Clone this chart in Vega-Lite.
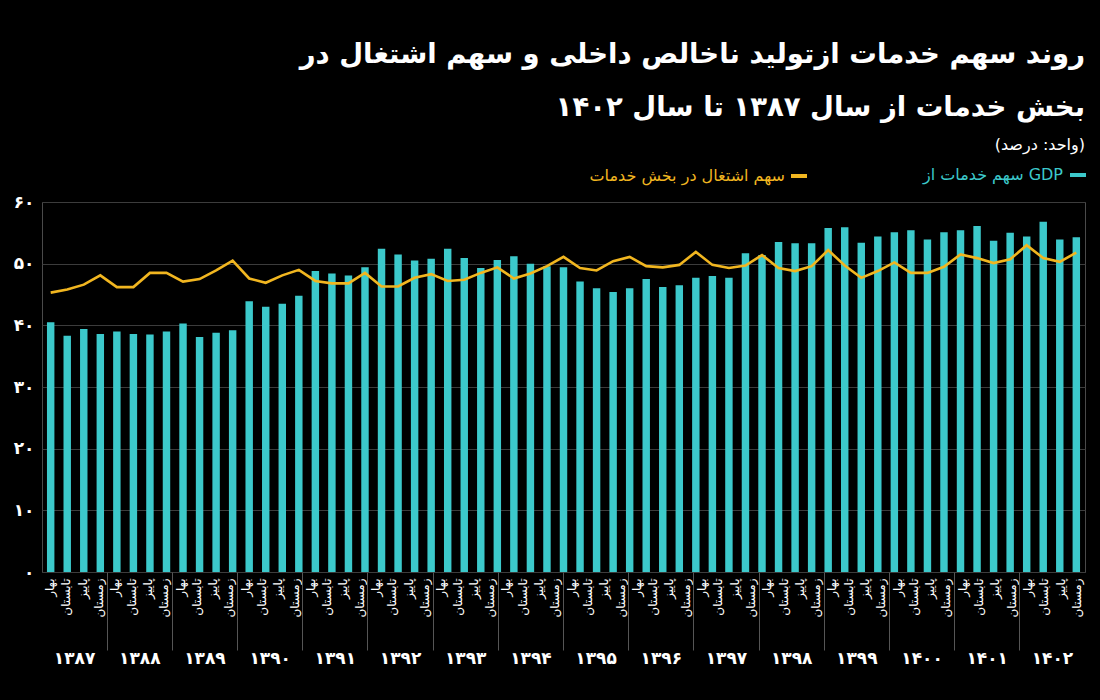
{
  "$schema": "https://vega.github.io/schema/vega-lite/v6.json",
  "width": 1043,
  "height": 370,
  "autosize": {"type": "none"},
  "padding": {"left": 42, "top": 202, "right": 15, "bottom": 128},
  "background": "#000000",
  "title": {
    "text": ["روند سهم خدمات ازتولید ناخالص داخلی  و سهم اشتغال در", "بخش خدمات از سال ۱۳۸۷ تا سال ۱۴۰۲"],
    "subtitle": "(واحد: درصد)",
    "anchor": "end",
    "frame": "group",
    "font": "DejaVu Sans",
    "fontSize": 27.5,
    "fontWeight": "bold",
    "color": "#ffffff",
    "lineHeight": 53,
    "subtitleFont": "DejaVu Sans",
    "subtitleFontSize": 16,
    "subtitleColor": "#ffffff",
    "subtitlePadding": 16,
    "offset": 13
  },
  "datasets": {
    "main": [
      {"q": "1387-1", "gdp": 40.5, "emp": 45.3},
      {"q": "1387-2", "gdp": 38.3, "emp": 45.8},
      {"q": "1387-3", "gdp": 39.4, "emp": 46.6},
      {"q": "1387-4", "gdp": 38.6, "emp": 48.1},
      {"q": "1388-1", "gdp": 39.0, "emp": 46.2},
      {"q": "1388-2", "gdp": 38.6, "emp": 46.2},
      {"q": "1388-3", "gdp": 38.5, "emp": 48.5},
      {"q": "1388-4", "gdp": 39.0, "emp": 48.5},
      {"q": "1389-1", "gdp": 40.3, "emp": 47.1},
      {"q": "1389-2", "gdp": 38.1, "emp": 47.5},
      {"q": "1389-3", "gdp": 38.8, "emp": 48.9},
      {"q": "1389-4", "gdp": 39.2, "emp": 50.5},
      {"q": "1390-1", "gdp": 43.9, "emp": 47.6},
      {"q": "1390-2", "gdp": 43.0, "emp": 46.9},
      {"q": "1390-3", "gdp": 43.5, "emp": 48.1},
      {"q": "1390-4", "gdp": 44.8, "emp": 49.0},
      {"q": "1391-1", "gdp": 48.8, "emp": 47.2},
      {"q": "1391-2", "gdp": 48.4, "emp": 46.8},
      {"q": "1391-3", "gdp": 48.1, "emp": 46.8},
      {"q": "1391-4", "gdp": 49.4, "emp": 48.5},
      {"q": "1392-1", "gdp": 52.4, "emp": 46.3},
      {"q": "1392-2", "gdp": 51.5, "emp": 46.3},
      {"q": "1392-3", "gdp": 50.5, "emp": 47.7},
      {"q": "1392-4", "gdp": 50.8, "emp": 48.3},
      {"q": "1393-1", "gdp": 52.4, "emp": 47.2},
      {"q": "1393-2", "gdp": 50.9, "emp": 47.4},
      {"q": "1393-3", "gdp": 49.3, "emp": 48.5},
      {"q": "1393-4", "gdp": 50.6, "emp": 49.4},
      {"q": "1394-1", "gdp": 51.2, "emp": 47.6},
      {"q": "1394-2", "gdp": 50.0, "emp": 48.4},
      {"q": "1394-3", "gdp": 49.6, "emp": 49.6},
      {"q": "1394-4", "gdp": 49.4, "emp": 51.1},
      {"q": "1395-1", "gdp": 47.1, "emp": 49.3},
      {"q": "1395-2", "gdp": 46.0, "emp": 48.9},
      {"q": "1395-3", "gdp": 45.4, "emp": 50.4},
      {"q": "1395-4", "gdp": 46.0, "emp": 51.1},
      {"q": "1396-1", "gdp": 47.5, "emp": 49.6},
      {"q": "1396-2", "gdp": 46.2, "emp": 49.4},
      {"q": "1396-3", "gdp": 46.5, "emp": 49.8},
      {"q": "1396-4", "gdp": 47.7, "emp": 51.9},
      {"q": "1397-1", "gdp": 48.0, "emp": 49.8},
      {"q": "1397-2", "gdp": 47.7, "emp": 49.3},
      {"q": "1397-3", "gdp": 51.7, "emp": 49.7},
      {"q": "1397-4", "gdp": 51.4, "emp": 51.4},
      {"q": "1398-1", "gdp": 53.5, "emp": 49.3},
      {"q": "1398-2", "gdp": 53.3, "emp": 48.8},
      {"q": "1398-3", "gdp": 53.3, "emp": 49.6},
      {"q": "1398-4", "gdp": 55.8, "emp": 52.2},
      {"q": "1399-1", "gdp": 55.9, "emp": 49.7},
      {"q": "1399-2", "gdp": 53.4, "emp": 47.7},
      {"q": "1399-3", "gdp": 54.4, "emp": 48.8},
      {"q": "1399-4", "gdp": 55.1, "emp": 50.2},
      {"q": "1400-1", "gdp": 55.4, "emp": 48.5},
      {"q": "1400-2", "gdp": 53.9, "emp": 48.5},
      {"q": "1400-3", "gdp": 55.1, "emp": 49.5},
      {"q": "1400-4", "gdp": 55.4, "emp": 51.5},
      {"q": "1401-1", "gdp": 56.1, "emp": 50.9},
      {"q": "1401-2", "gdp": 53.7, "emp": 50.1},
      {"q": "1401-3", "gdp": 55.0, "emp": 50.7},
      {"q": "1401-4", "gdp": 54.4, "emp": 53.0},
      {"q": "1402-1", "gdp": 56.8, "emp": 50.9},
      {"q": "1402-2", "gdp": 53.9, "emp": 50.3},
      {"q": "1402-3", "gdp": 54.3, "emp": 51.8}
    ],
    "slots": [
      {"slot": "1387|بهار"}, {"slot": "1387|تابستان"}, {"slot": "1387|پاییز"}, {"slot": "1387|زمستان"},
      {"slot": "1388|بهار"}, {"slot": "1388|تابستان"}, {"slot": "1388|پاییز"}, {"slot": "1388|زمستان"},
      {"slot": "1389|بهار"}, {"slot": "1389|تابستان"}, {"slot": "1389|پاییز"}, {"slot": "1389|زمستان"},
      {"slot": "1390|بهار"}, {"slot": "1390|تابستان"}, {"slot": "1390|پاییز"}, {"slot": "1390|زمستان"},
      {"slot": "1391|بهار"}, {"slot": "1391|تابستان"}, {"slot": "1391|پاییز"}, {"slot": "1391|زمستان"},
      {"slot": "1392|بهار"}, {"slot": "1392|تابستان"}, {"slot": "1392|پاییز"}, {"slot": "1392|زمستان"},
      {"slot": "1393|بهار"}, {"slot": "1393|تابستان"}, {"slot": "1393|پاییز"}, {"slot": "1393|زمستان"},
      {"slot": "1394|بهار"}, {"slot": "1394|تابستان"}, {"slot": "1394|پاییز"}, {"slot": "1394|زمستان"},
      {"slot": "1395|بهار"}, {"slot": "1395|تابستان"}, {"slot": "1395|پاییز"}, {"slot": "1395|زمستان"},
      {"slot": "1396|بهار"}, {"slot": "1396|تابستان"}, {"slot": "1396|پاییز"}, {"slot": "1396|زمستان"},
      {"slot": "1397|بهار"}, {"slot": "1397|تابستان"}, {"slot": "1397|پاییز"}, {"slot": "1397|زمستان"},
      {"slot": "1398|بهار"}, {"slot": "1398|تابستان"}, {"slot": "1398|پاییز"}, {"slot": "1398|زمستان"},
      {"slot": "1399|بهار"}, {"slot": "1399|تابستان"}, {"slot": "1399|پاییز"}, {"slot": "1399|زمستان"},
      {"slot": "1400|بهار"}, {"slot": "1400|تابستان"}, {"slot": "1400|پاییز"}, {"slot": "1400|زمستان"},
      {"slot": "1401|بهار"}, {"slot": "1401|تابستان"}, {"slot": "1401|پاییز"}, {"slot": "1401|زمستان"},
      {"slot": "1402|بهار"}, {"slot": "1402|تابستان"}, {"slot": "1402|پاییز"}, {"slot": "1402|زمستان"}
    ],
    "years": [
      {"year": "۱۳۸۷"}, {"year": "۱۳۸۸"}, {"year": "۱۳۸۹"}, {"year": "۱۳۹۰"},
      {"year": "۱۳۹۱"}, {"year": "۱۳۹۲"}, {"year": "۱۳۹۳"}, {"year": "۱۳۹۴"},
      {"year": "۱۳۹۵"}, {"year": "۱۳۹۶"}, {"year": "۱۳۹۷"}, {"year": "۱۳۹۸"},
      {"year": "۱۳۹۹"}, {"year": "۱۴۰۰"}, {"year": "۱۴۰۱"}, {"year": "۱۴۰۲"}
    ]
  },
  "layer": [
    {
      "data": {"name": "main"},
      "layer": [
        {
          "mark": {"type": "bar"},
          "encoding": {
            "x": {"field": "q", "type": "nominal", "sort": null,
                  "scale": {"paddingInner": 0.55, "paddingOuter": 0.3}, "axis": null},
            "y": {"field": "gdp", "type": "quantitative", "title": null,
                  "scale": {"domain": [0, 60], "nice": false},
                  "axis": {"values": [0, 10, 20, 30, 40, 50, 60]}},
            "color": {"datum": "سهم خدمات از GDP", "type": "nominal",
                      "scale": {"range": ["#3CC9CB"]},
                      "legend": {"title": null, "orient": "none", "legendX": 1027, "legendY": -36,
                                 "labelColor": "#3CC9CB", "labelFontSize": 16, "labelFont": "DejaVu Sans",
                                 "labelAlign": "right", "labelOffset": -24, "labelLimit": 400,
                                 "symbolType": "M-1,-0.25H1V0.25H-1Z", "symbolSize": 256}}
          }
        },
        {
          "mark": {"type": "line", "strokeWidth": 2.6},
          "encoding": {
            "x": {"field": "q", "type": "nominal", "sort": null, "axis": null},
            "y": {"field": "emp", "type": "quantitative", "title": null,
                  "axis": {"values": [0, 10, 20, 30, 40, 50, 60]}},
            "stroke": {"datum": "سهم اشتغال در بخش خدمات", "type": "nominal",
                       "scale": {"range": ["#F1B620"]},
                       "legend": {"title": null, "orient": "none", "legendX": 747, "legendY": -36,
                                  "labelColor": "#F1B620", "labelFontSize": 16, "labelFont": "DejaVu Sans",
                                  "labelAlign": "right", "labelOffset": -24, "labelLimit": 400,
                                  "symbolType": "stroke", "symbolStrokeWidth": 4, "symbolSize": 256}}
          }
        }
      ]
    },
    {
      "data": {"name": "slots"},
      "mark": {"type": "tick", "opacity": 0},
      "encoding": {
        "x": {"field": "slot", "type": "nominal", "sort": null,
              "scale": {"type": "band", "paddingInner": 0, "paddingOuter": 0},
              "axis": {"orient": "bottom", "title": null, "labelAngle": -90, "labelPadding": 6,
                       "ticks": false, "domain": false, "grid": false,
                       "labelFontSize": 12, "labelColor": "#ffffff", "labelFont": "DejaVu Sans",
                       "labelExpr": "split(datum.label, '|')[1]", "labelOverlap": false}}
      }
    },
    {
      "data": {"name": "years"},
      "mark": {"type": "tick", "opacity": 0},
      "encoding": {
        "x": {"field": "year", "type": "nominal", "sort": null,
              "scale": {"type": "band", "paddingInner": 0, "paddingOuter": 0},
              "axis": {"orient": "bottom", "title": null, "labels": false, "domain": false, "grid": false,
                       "ticks": true, "tickSize": 78, "tickColor": "#555555", "tickWidth": 1,
                       "bandPosition": 0,
                       "values": ["۱۳۸۸", "۱۳۸۹", "۱۳۹۰", "۱۳۹۱", "۱۳۹۲", "۱۳۹۳", "۱۳۹۴", "۱۳۹۵", "۱۳۹۶", "۱۳۹۷", "۱۳۹۸", "۱۳۹۹", "۱۴۰۰", "۱۴۰۱", "۱۴۰۲"]}}
      }
    },
    {
      "data": {"name": "years"},
      "mark": {"type": "tick", "opacity": 0},
      "encoding": {
        "x": {"field": "year", "type": "nominal", "sort": null,
              "scale": {"type": "band", "paddingInner": 0, "paddingOuter": 0},
              "axis": {"orient": "bottom", "title": null, "ticks": false, "domain": false, "grid": false,
                       "labelPadding": 78, "labelAngle": 0, "labelFontSize": 17, "labelFontWeight": "bold",
                       "labelColor": "#ffffff", "labelFont": "DejaVu Sans"}}
      }
    }
  ],
  "resolve": {"scale": {"x": "independent"}, "axis": {"x": "independent"}},
  "config": {
    "view": {"stroke": "#4a4a4a"},
    "axisY": {
      "labelExpr": "datum.value == 0 ? '۰' : datum.value == 10 ? '۱۰' : datum.value == 20 ? '۲۰' : datum.value == 30 ? '۳۰' : datum.value == 40 ? '۴۰' : datum.value == 50 ? '۵۰' : '۶۰'",
      "labelColor": "#ffffff",
      "labelFontSize": 17,
      "labelFontWeight": "bold",
      "labelFont": "DejaVu Sans",
      "labelPadding": 8,
      "ticks": false,
      "domain": false,
      "grid": true,
      "gridColor": "#3c3c3c",
      "gridWidth": 1
    },
    "text": {"font": "DejaVu Sans"}
  }
}
